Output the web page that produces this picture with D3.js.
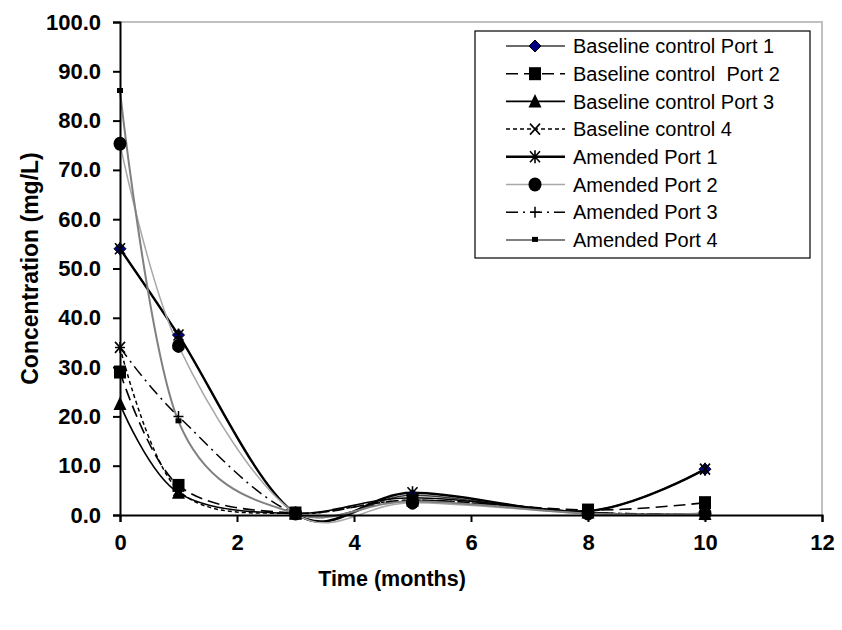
<!DOCTYPE html>
<html>
<head>
<meta charset="utf-8">
<script src="https://cdn.jsdelivr.net/npm/d3@7"></script>
<style>
  html, body { margin: 0; padding: 0; background: #fff; }
  svg { display: block; font-family: "Liberation Sans", Arial, sans-serif; }
  text { white-space: pre; }
</style>
</head>
<body>
<svg id="chart" width="842" height="630"></svg>
<script>
// Sampling times (months)
const months = [0, 1, 3, 5, 8, 10];

// Concentration series (mg/L)
const baselinePort1 = [54.0, 36.5, 0.3, 4.0, 0.8, 9.3];
const baselinePort2 = [29.0, 6.0, 0.4, 3.0, 1.0, 2.5];
const baselinePort3 = [22.5, 4.5, 0.3, 3.5, 0.5, 0.2];
const baselineControl4 = [34.0, 5.0, 0.3, 3.0, 0.5, 0.3];
const amendedPort1 = [54.0, 36.5, 0.3, 4.5, 0.8, 9.3];
const amendedPort2 = [75.3, 34.3, 0.3, 2.5, 0.3, 0.3];
const amendedPort3 = [34.0, 20.0, 0.3, 3.0, 0.5, 0.3];
const amendedPort4 = [86.0, 19.0, 0.3, 2.8, 0.3, 0.3];

const seriesNames = [
  "Baseline control Port 1",
  "Baseline control  Port 2",
  "Baseline control Port 3",
  "Baseline control 4",
  "Amended Port 1",
  "Amended Port 2",
  "Amended Port 3",
  "Amended Port 4"
];

const xTicks = [0, 2, 4, 6, 8, 10, 12];
const yTicks = [0, 10, 20, 30, 40, 50, 60, 70, 80, 90, 100];

// Line and marker styling per series
const styles = [
  { stroke: "#3a3a3a", width: 1.4, dash: null, marker: "diamond" },
  { stroke: "#000", width: 1.6, dash: "12,6", marker: "square" },
  { stroke: "#000", width: 1.6, dash: null, marker: "triangle" },
  { stroke: "#000", width: 1.5, dash: "4,3", marker: "cross" },
  { stroke: "#000", width: 2.4, dash: null, marker: "asterisk" },
  { stroke: "#a8a8a8", width: 1.5, dash: null, marker: "circle" },
  { stroke: "#000", width: 1.5, dash: "12,5,2,5", marker: "plus" },
  { stroke: "#808080", width: 2.0, dash: null, marker: "dot" }
];

const allSeries = [baselinePort1, baselinePort2, baselinePort3, baselineControl4,
                   amendedPort1, amendedPort2, amendedPort3, amendedPort4];

const svg = d3.select("#chart");
const plot = { left: 120, right: 822, top: 22, bottom: 515 };

const x = d3.scaleLinear().domain([0, 12]).range([plot.left, plot.right]);
const y = d3.scaleLinear().domain([0, 100]).range([plot.bottom, plot.top]);

// Plot area frame (top and right edges)
svg.append("path")
  .attr("d", `M${plot.left},${plot.top}H${plot.right}V${plot.bottom}`)
  .attr("fill", "none").attr("stroke", "#c0c0c0").attr("stroke-width", 2);

// Series lines (smoothed)
const line = d3.line()
  .x(d => x(d[0]))
  .y(d => y(d[1]))
  .curve(d3.curveCardinal.tension(0));

// Marker drawing
function drawMarker(g, type, cx, cy) {
  const m = g.append("g").attr("transform", `translate(${cx},${cy})`);
  switch (type) {
    case "diamond":
      m.append("path").attr("d", "M0,-6L6,0L0,6L-6,0Z")
        .attr("fill", "#000080").attr("stroke", "#000").attr("stroke-width", 1);
      break;
    case "square":
      m.append("rect").attr("x", -6).attr("y", -6.5).attr("width", 12).attr("height", 13)
        .attr("fill", "#000");
      break;
    case "triangle":
      m.append("path").attr("d", "M0,-7.5L6.5,6L-6.5,6Z").attr("fill", "#000");
      break;
    case "cross":
      m.append("path").attr("d", "M-5,-5.5L5,5.5M-5,5.5L5,-5.5")
        .attr("stroke", "#000").attr("stroke-width", 1.6);
      break;
    case "asterisk":
      m.append("path").attr("d", "M-5,-5.5L5,5.5M-5,5.5L5,-5.5M0,-6.5V6.5")
        .attr("stroke", "#000").attr("stroke-width", 1.6);
      break;
    case "circle":
      m.append("ellipse").attr("rx", 6.5).attr("ry", 7).attr("fill", "#000");
      break;
    case "plus":
      m.append("path").attr("d", "M-5,0H5M0,-5.5V5.5")
        .attr("stroke", "#000").attr("stroke-width", 1.5);
      break;
    case "dot":
      m.append("rect").attr("x", -3).attr("y", -3).attr("width", 6).attr("height", 5)
        .attr("fill", "#000");
      break;
  }
}

const seriesG = svg.append("g");
allSeries.forEach((vals, i) => {
  const st = styles[i];
  const pts = months.map((m, j) => [m, vals[j]]);
  seriesG.append("path")
    .attr("d", line(pts))
    .attr("fill", "none")
    .attr("stroke", st.stroke)
    .attr("stroke-width", st.width)
    .attr("stroke-dasharray", st.dash);
});
// Markers drawn on top, in series order
allSeries.forEach((vals, i) => {
  const st = styles[i];
  months.forEach((m, j) => drawMarker(seriesG, st.marker, x(m), y(vals[j])));
});

// Axes
const yAxis = d3.axisLeft(y).tickValues(yTicks).tickFormat(d3.format(".1f"))
  .tickSize(7).tickPadding(12);
const xAxis = d3.axisBottom(x).tickValues(xTicks).tickFormat(d3.format("d"))
  .tickSize(7).tickPadding(12);

const gy = svg.append("g").attr("transform", `translate(${plot.left},0)`).call(yAxis);
const gx = svg.append("g").attr("transform", `translate(0,${plot.bottom})`).call(xAxis);

[gy, gx].forEach(g => {
  g.select(".domain").attr("stroke", "#000").attr("stroke-width", 2);
  g.selectAll(".tick line").attr("stroke", "#000").attr("stroke-width", 2);
  g.selectAll(".tick text")
    .attr("fill", "#000")
    .style("font-family", "'Liberation Sans', Arial, sans-serif")
    .style("font-size", "22px")
    .style("font-weight", "bold");
});

// Axis titles
svg.append("text")
  .attr("x", 392)
  .attr("y", 586)
  .attr("text-anchor", "middle")
  .style("font-size", "21.5px").style("font-weight", "bold")
  .text("Time (months)");

svg.append("text")
  .attr("transform", `translate(38,${(plot.top + plot.bottom) / 2}) rotate(-90)`)
  .attr("text-anchor", "middle")
  .style("font-size", "23px").style("font-weight", "bold")
  .text("Concentration (mg/L)");

// Legend
const legend = { x: 475, y: 31, w: 335, h: 227, row0: 46, step: 27.7 };
svg.append("rect")
  .attr("x", legend.x).attr("y", legend.y).attr("width", legend.w).attr("height", legend.h)
  .attr("fill", "#fff").attr("stroke", "#000").attr("stroke-width", 1.2);

seriesNames.forEach((name, i) => {
  const st = styles[i];
  const cy = legend.row0 + i * legend.step;
  const lg = svg.append("g");
  lg.append("line")
    .attr("x1", 506).attr("x2", 565).attr("y1", cy).attr("y2", cy)
    .attr("stroke", st.stroke).attr("stroke-width", st.width)
    .attr("stroke-dasharray", st.dash);
  drawMarker(lg, st.marker, 535, cy);
  lg.append("text")
    .attr("x", 573).attr("y", cy).attr("dy", "0.36em")
    .style("font-size", "20px")
    .text(name);
});
</script>
</body>
</html>
